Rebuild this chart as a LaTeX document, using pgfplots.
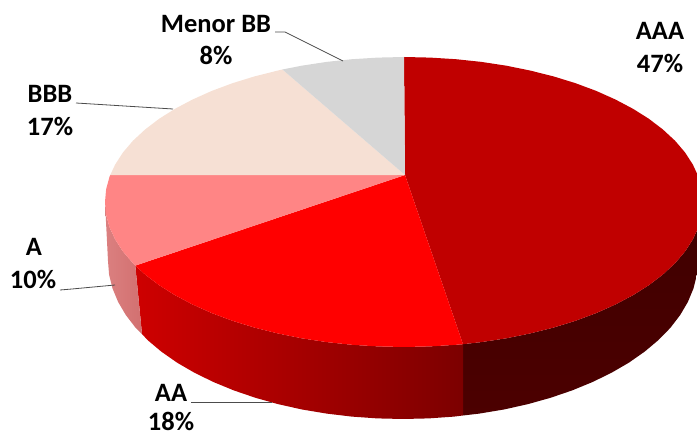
\documentclass[border=0pt]{standalone}
\usepackage{pgfplots}
\pgfplotsset{compat=1.18}
\usepackage{fontspec}
\setmainfont{Carlito}
\definecolor{cAAA}{HTML}{C00000}
\definecolor{cAA}{HTML}{FF0000}
\definecolor{cA}{HTML}{FF8585}
\definecolor{cBBB}{HTML}{F6E0D4}
\definecolor{cMB}{HTML}{D6D6D6}
\definecolor{sAAAl}{HTML}{3F0000}
\definecolor{sAAAr}{HTML}{4C0000}
\definecolor{sAAl}{HTML}{CE0000}
\definecolor{sAAr}{HTML}{7C0000}
\definecolor{sAl}{HTML}{DB8080}
\definecolor{sAr}{HTML}{D27070}
\tikzset{lab/.style={anchor=base,font=\fontsize{26.5}{26.5}\selectfont\bfseries,text=black,inner sep=0pt}}
\pgfplotsset{lead/.style={draw=black!70,line width=0.8pt,no marks}}
\begin{document}
\begin{tikzpicture}
\path[use as bounding box] (0,0) rectangle (697pt,438pt);
\begin{axis}[at={(0,0)},anchor=south west,width=697pt,height=438pt,scale only axis,
  xmin=0,xmax=697,ymin=0,ymax=438,y dir=reverse,axis lines=none,no markers,clip=true]
% ---- side of AAA (dark)
\addplot[draw=none,left color=sAAAr,right color=sAAAl,shading angle=180] coordinates {(463,344.2)(481.4,342.1)(506.3,338.3)(530.4,333.4)(553.5,327.6)(575.5,320.8)(596.2,313.1)(615.4,304.5)(633.0,295.2)(648.9,285.2)(662.9,274.5)(675.0,263.3)(685.0,251.6)(692.8,239.5)(698.5,227.2)(701.9,214.6)(703,202)(698,261)(696.9,274.8)(693.5,288.4)(687.9,301.9)(680.2,315.0)(670.4,327.8)(658.5,340)(644.7,351.6)(629.0,362.6)(611.6,372.7)(592.6,382.0)(572.2,390.4)(550.5,397.8)(527.7,404.2)(503.9,409.5)(479.3,413.6)(463,415.5)} --cycle;
% ---- side of AA (gradient)
\addplot[draw=none,left color=sAAl,right color=sAAr] coordinates {(463,344.2)(455.9,344.8)(430.1,346.4)(404,347)(377.9,346.4)(352.1,344.8)(326.6,342.1)(301.7,338.3)(277.6,333.4)(254.5,327.6)(232.5,320.8)(211.8,313.1)(192.6,304.5)(175.0,295.2)(159.1,285.2)(145.1,274.5)(135.3,265.6)(142,334)(147.5,340)(161.3,351.6)(177.0,362.6)(194.4,372.7)(213.4,382.0)(233.8,390.4)(255.5,397.8)(278.3,404.2)(302.1,409.5)(326.7,413.6)(351.8,416.6)(377.3,418.4)(403,419)(428.7,418.4)(454.2,416.6)(463,415.5)} --cycle;
% ---- side of A (pink)
\addplot[draw=none,left color=sAl,right color=sAr] coordinates {(135.3,265.6)(133.0,263.3)(123.0,251.6)(115.2,239.5)(109.5,227.2)(106.1,214.6)(105,202)(108,261)(109.1,274.8)(112.5,288.4)(118.1,301.9)(125.8,315)(135.6,327.8)(142,334)} --cycle;
% ---- top: AAA 47%
\addplot[fill=cAAA,draw=none] coordinates {(405,175)(404,57)(430.1,57.6)(455.9,59.2)(481.4,61.9)(506.3,65.7)(530.4,70.6)(553.5,76.4)(575.5,83.2)(596.2,90.9)(615.4,99.5)(633.0,108.8)(648.9,118.8)(662.9,129.5)(675.0,140.7)(685.0,152.4)(692.8,164.5)(698.5,176.8)(701.9,189.4)(703,202)(701.9,214.6)(698.5,227.2)(692.8,239.5)(685.0,251.6)(675.0,263.3)(662.9,274.5)(648.9,285.2)(633.0,295.2)(615.4,304.5)(596.2,313.1)(575.5,320.8)(553.5,327.6)(530.4,333.4)(506.3,338.3)(481.4,342.1)(463,344.2)} --cycle;
% ---- top: AA 18%
\addplot[fill=cAA,draw=none] coordinates {(405,175)(463,344.2)(455.9,344.8)(430.1,346.4)(404,347)(377.9,346.4)(352.1,344.8)(326.6,342.1)(301.7,338.3)(277.6,333.4)(254.5,327.6)(232.5,320.8)(211.8,313.1)(192.6,304.5)(175.0,295.2)(159.1,285.2)(145.1,274.5)(135.3,265.6)} --cycle;
% ---- top: A 10%
\addplot[fill=cA,draw=none] coordinates {(405,175)(135.3,265.6)(133.0,263.3)(123.0,251.6)(115.2,239.5)(109.5,227.2)(106.1,214.6)(105,202)(106.1,189.4)(109.5,176.8)(110.2,175.1)} --cycle;
% ---- top: BBB 17%
\addplot[fill=cBBB,draw=none] coordinates {(405,175)(110.2,175.1)(115.2,164.5)(123.0,152.4)(133.0,140.7)(145.1,129.5)(159.1,118.8)(175.0,108.8)(192.6,99.5)(211.8,90.9)(232.5,83.2)(254.5,76.4)(277.6,70.6)(282.4,69.5)} --cycle;
% ---- top: Menor BB 8%
\addplot[fill=cMB,draw=none] coordinates {(405,175)(282.4,69.5)(301.7,65.7)(326.6,61.9)(352.1,59.2)(377.9,57.6)(404,57)} --cycle;
% ---- leader lines
\addplot[lead] coordinates {(275,32)(285,32)(343,61)};
\addplot[lead] coordinates {(76,103)(173,109)};
\addplot[lead] coordinates {(60,290)(72,289)(115,285)};
\addplot[lead] coordinates {(191,402)(272,402)};
% ---- labels
\node[lab] at (axis cs:216,33) {Menor BB};
\node[lab] at (axis cs:216,65) {8\%};
\node[lab] at (axis cs:50,103) {BBB};
\node[lab] at (axis cs:50,136) {17\%};
\node[lab] at (axis cs:660,40) {AAA};
\node[lab] at (axis cs:660,73) {47\%};
\node[lab] at (axis cs:34,256) {A};
\node[lab] at (axis cs:33,289) {10\%};
\node[lab] at (axis cs:171,402) {AA};
\node[lab] at (axis cs:171,431) {18\%};
\end{axis}
\end{tikzpicture}
\end{document}
